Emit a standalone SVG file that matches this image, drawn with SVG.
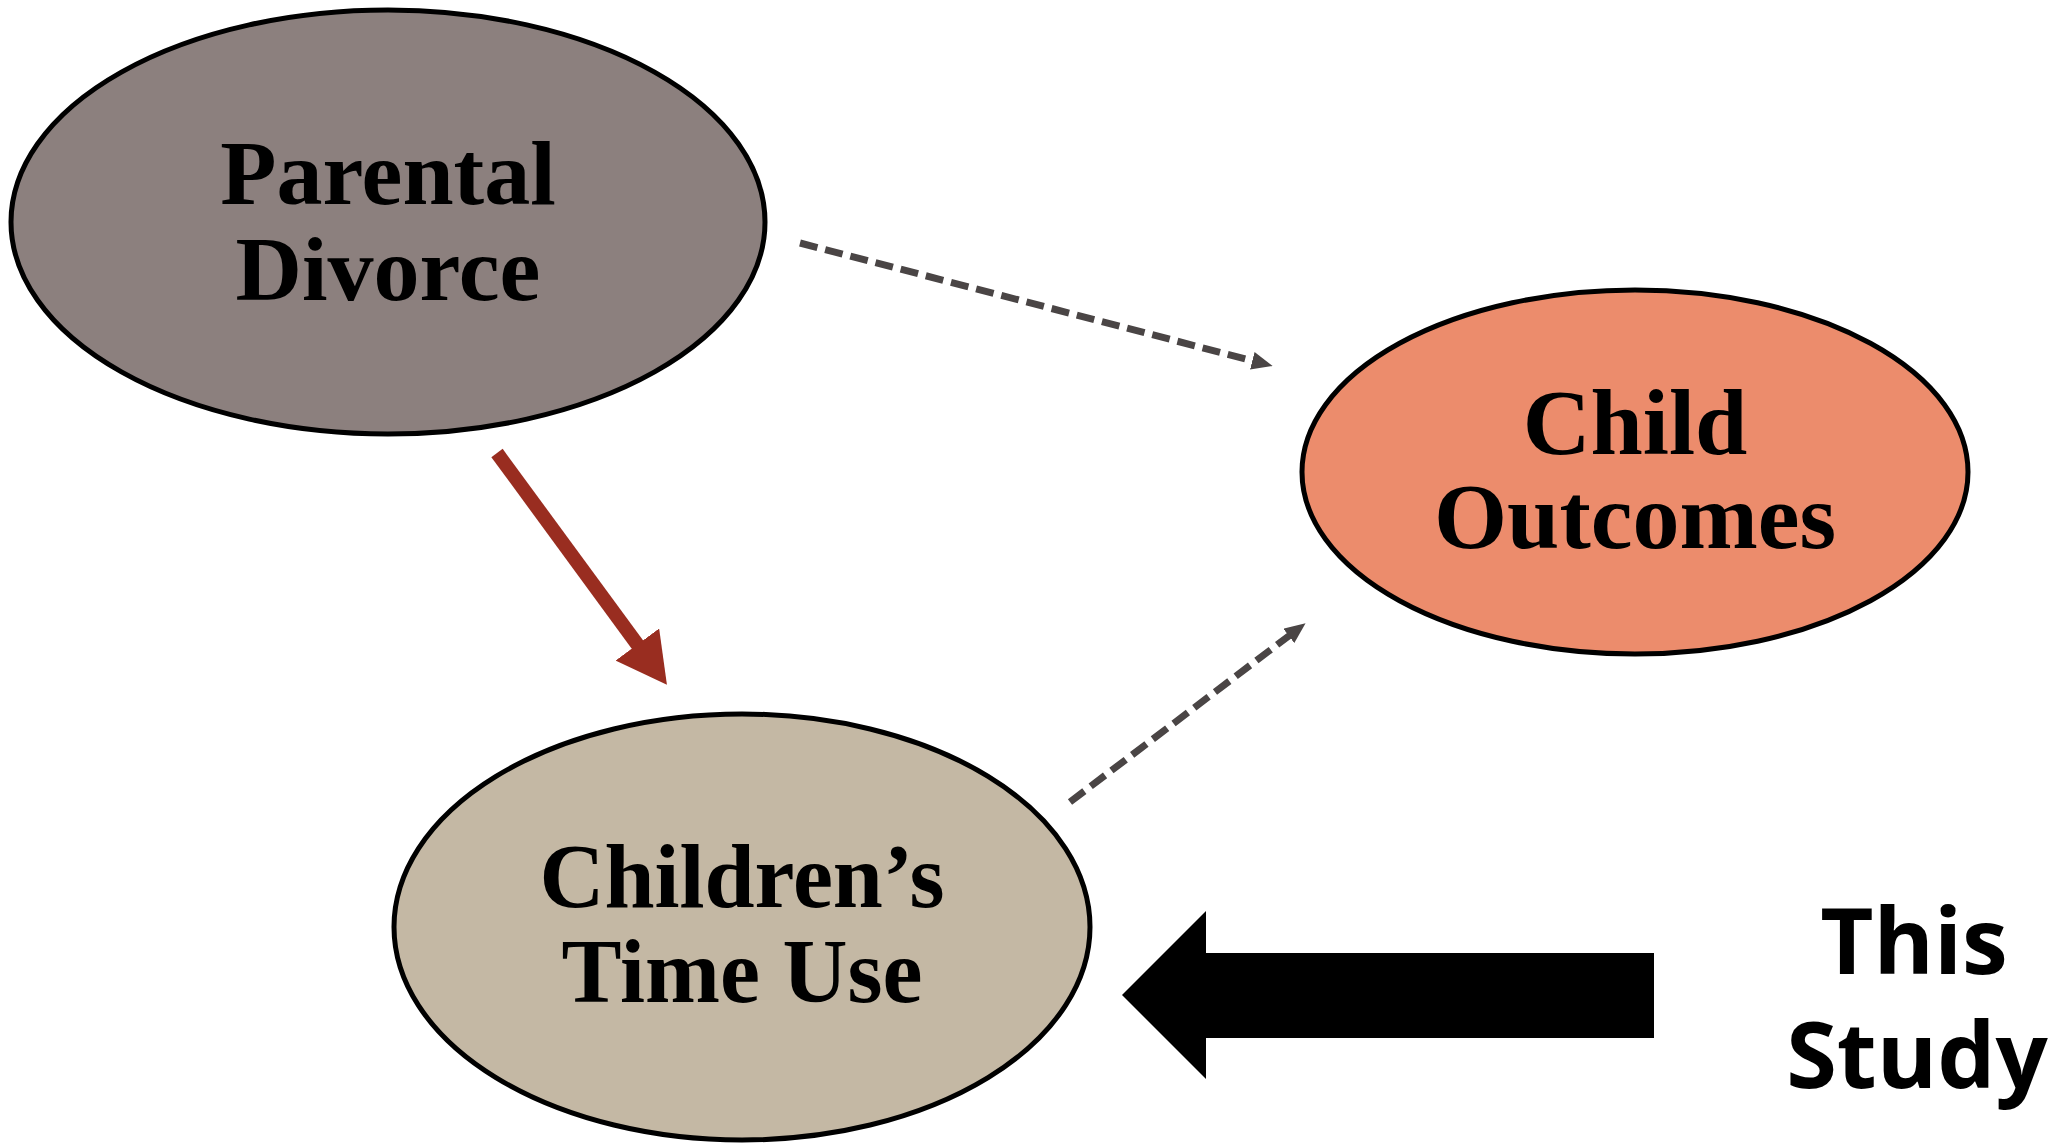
<svg xmlns="http://www.w3.org/2000/svg" width="2062" height="1146" viewBox="0 0 2062 1146">
  <style>
    .node { stroke: #000; stroke-width: 5; }
    .label { font-family: "Liberation Serif", "DejaVu Serif", serif; font-weight: bold; fill: #000; text-anchor: middle; }
    .dash { stroke: #4a4545; stroke-width: 7; stroke-dasharray: 18 8; fill: none; }
    .study { font-family: "Open Sans", "Liberation Sans", sans-serif; font-weight: bold; font-size: 92px; fill: #000; text-anchor: middle; }
  </style>
  <defs>
    <marker id="redHead" markerUnits="userSpaceOnUse" markerWidth="50" markerHeight="54" refX="18" refY="27" orient="auto">
      <path d="M0,0 L50,27 L0,54 z" fill="#992d20"/>
    </marker>
    <marker id="grayHead" markerUnits="userSpaceOnUse" markerWidth="21" markerHeight="18" refX="9" refY="9" orient="auto">
      <path d="M0,0 L21,9 L0,18 z" fill="#4a4545"/>
    </marker>
  </defs>
  <rect width="2062" height="1146" fill="#fff"/>

  <g id="connectors">
    <line x1="497" y1="453" x2="648" y2="659" stroke="#992d20" stroke-width="14" marker-end="url(#redHead)"/>
    <line class="dash" x1="800" y1="243" x2="1261" y2="363" marker-end="url(#grayHead)"/>
    <line class="dash" x1="1070" y1="802" x2="1296" y2="630.5" marker-end="url(#grayHead)"/>
  </g>

  <g id="parental-divorce">
    <ellipse class="node" cx="388" cy="222" rx="377" ry="212" fill="#8c807e"/>
    <text class="label" x="388" y="204" font-size="92">Parental</text>
    <text class="label" x="388" y="300" font-size="92">Divorce</text>
  </g>

  <g id="child-outcomes">
    <ellipse class="node" cx="1635" cy="472" rx="333" ry="182" fill="#ec8c6c"/>
    <text class="label" x="1635" y="454" font-size="94">Child</text>
    <text class="label" x="1635" y="548" font-size="94">Outcomes</text>
  </g>

  <g id="childrens-time-use">
    <ellipse class="node" cx="742" cy="927" rx="348" ry="213" fill="#c4b8a4"/>
    <text class="label" x="742" y="907" font-size="90">Children’s</text>
    <text class="label" x="742" y="1002" font-size="90">Time Use</text>
  </g>

  <g id="this-study">
    <polygon points="1122,995 1206,911 1206,953 1654,953 1654,1038 1206,1038 1206,1079" fill="#000"/>
    <text class="study" x="1914" y="974">This</text>
    <text class="study" x="1917" y="1088">Study</text>
  </g>
</svg>
